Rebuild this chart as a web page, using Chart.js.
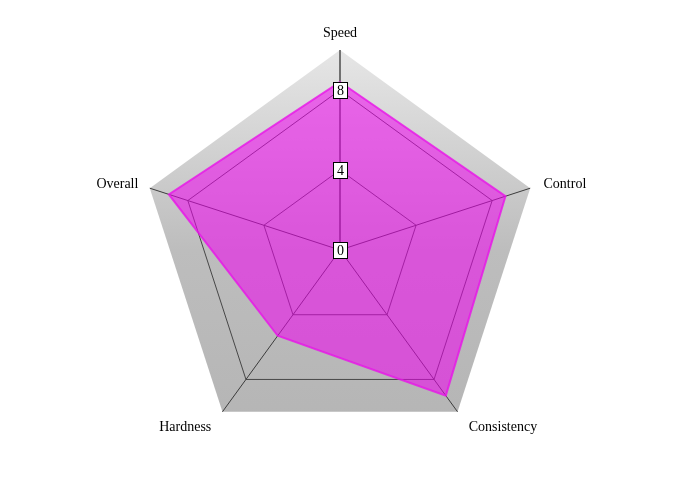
<!DOCTYPE html>
<html>
<head>
<meta charset="utf-8">
<script src="https://cdn.jsdelivr.net/npm/chart.js"></script>
<style>
  html, body { margin: 0; padding: 0; background: #fff; }
  .chart-container { position: relative; width: 680px; height: 500px; }
</style>
</head>
<body>
<div class="chart-container">
  <canvas id="radarChart"></canvas>
</div>
<script>
const categories = ['Speed', 'Control', 'Consistency', 'Hardness', 'Overall'];
const ratings = [8.4, 8.7, 9.0, 5.3, 9.0];
const tickValues = [0, 4, 8];
const scaleMax = 10;

// distance of each category label from the outer pentagon
const labelPadding = [17, 14, 19, 19, 12];

// gray pentagon behind the grid + boxed tick labels on the Speed axis
const radarDecor = {
  id: 'radarDecor',
  beforeDraw(chart) {
    const scale = chart.scales.r;
    const ctx = chart.ctx;
    const r = scale.drawingArea;
    const grad = ctx.createLinearGradient(0, scale.yCenter - r, 0, scale.yCenter + r);
    grad.addColorStop(0, '#e6e6e6');
    grad.addColorStop(0.5, '#bdbdbd');
    grad.addColorStop(1, '#b4b4b4');
    ctx.save();
    ctx.beginPath();
    categories.forEach((c, i) => {
      const p = scale.getPointPosition(i, r);
      if (i === 0) ctx.moveTo(p.x, p.y); else ctx.lineTo(p.x, p.y);
    });
    ctx.closePath();
    ctx.fillStyle = grad;
    ctx.fill();
    ctx.restore();
  },
  afterDraw(chart) {
    const scale = chart.scales.r;
    const ctx = chart.ctx;
    ctx.save();
    ctx.font = '14px "Liberation Serif", serif';
    ctx.textAlign = 'center';
    ctx.textBaseline = 'middle';
    tickValues.forEach(v => {
      const p = scale.getPointPosition(0, scale.getDistanceFromCenterForValue(v));
      const txt = String(v);
      const w = Math.max(ctx.measureText(txt).width + 6, 14);
      const h = 16;
      const x = Math.round(p.x - w / 2) + 0.5;
      const y = Math.round(p.y - h / 2) + 0.5;
      ctx.fillStyle = '#fff';
      ctx.fillRect(x, y, w, h);
      ctx.strokeStyle = '#000';
      ctx.lineWidth = 1;
      ctx.strokeRect(x, y, w, h);
      ctx.fillStyle = '#000';
      ctx.fillText(txt, p.x + 0.5, p.y + 1);
    });
    ctx.restore();
  }
};

try {
  const radarChart = new Chart(document.getElementById('radarChart'), {
    type: 'radar',
    data: {
      labels: categories,
      datasets: [
        {
          label: 'Rating',
          data: ratings,
          backgroundColor: 'rgba(240, 0, 240, 0.55)',
          borderColor: 'rgba(232, 20, 232, 0.8)',
          borderWidth: 2,
          pointRadius: 0,
          fill: true,
        },
      ],
    },
    options: {
      responsive: true,
      maintainAspectRatio: false,
      animation: false,
      plugins: {
        legend: { display: false },
        tooltip: { enabled: false },
      },
      scales: {
        r: {
          min: 0,
          max: scaleMax,
          ticks: { stepSize: 4, display: false },
          grid: {
            color: (ctx) => (ctx.tick && ctx.tick.value === scaleMax ? 'rgba(0,0,0,0)' : '#474747'),
            lineWidth: 1,
          },
          angleLines: {
            color: (ctx) => (ctx.index === 0 ? '#000' : '#3c3c3c'),
            lineWidth: 1,
          },
          pointLabels: {
            color: '#000',
            padding: (ctx) => labelPadding[ctx.index],
            // lineHeight 0 keeps each label centred on its anchor point
            font: { family: '"Liberation Serif", serif', size: 14, lineHeight: 0 },
          },
          // fix the centre and radius of the pentagon
          afterSetDimensions(scale) {
            scale.xCenter = 340;
            scale.yCenter = 250;
            scale.drawingArea = 200;
          },
        },
      },
    },
    plugins: [radarDecor],
  });
} catch (e) {
  document.body.insertAdjacentHTML('beforeend', '<pre>' + e.message + '</pre>');
}
</script>
</body>
</html>
